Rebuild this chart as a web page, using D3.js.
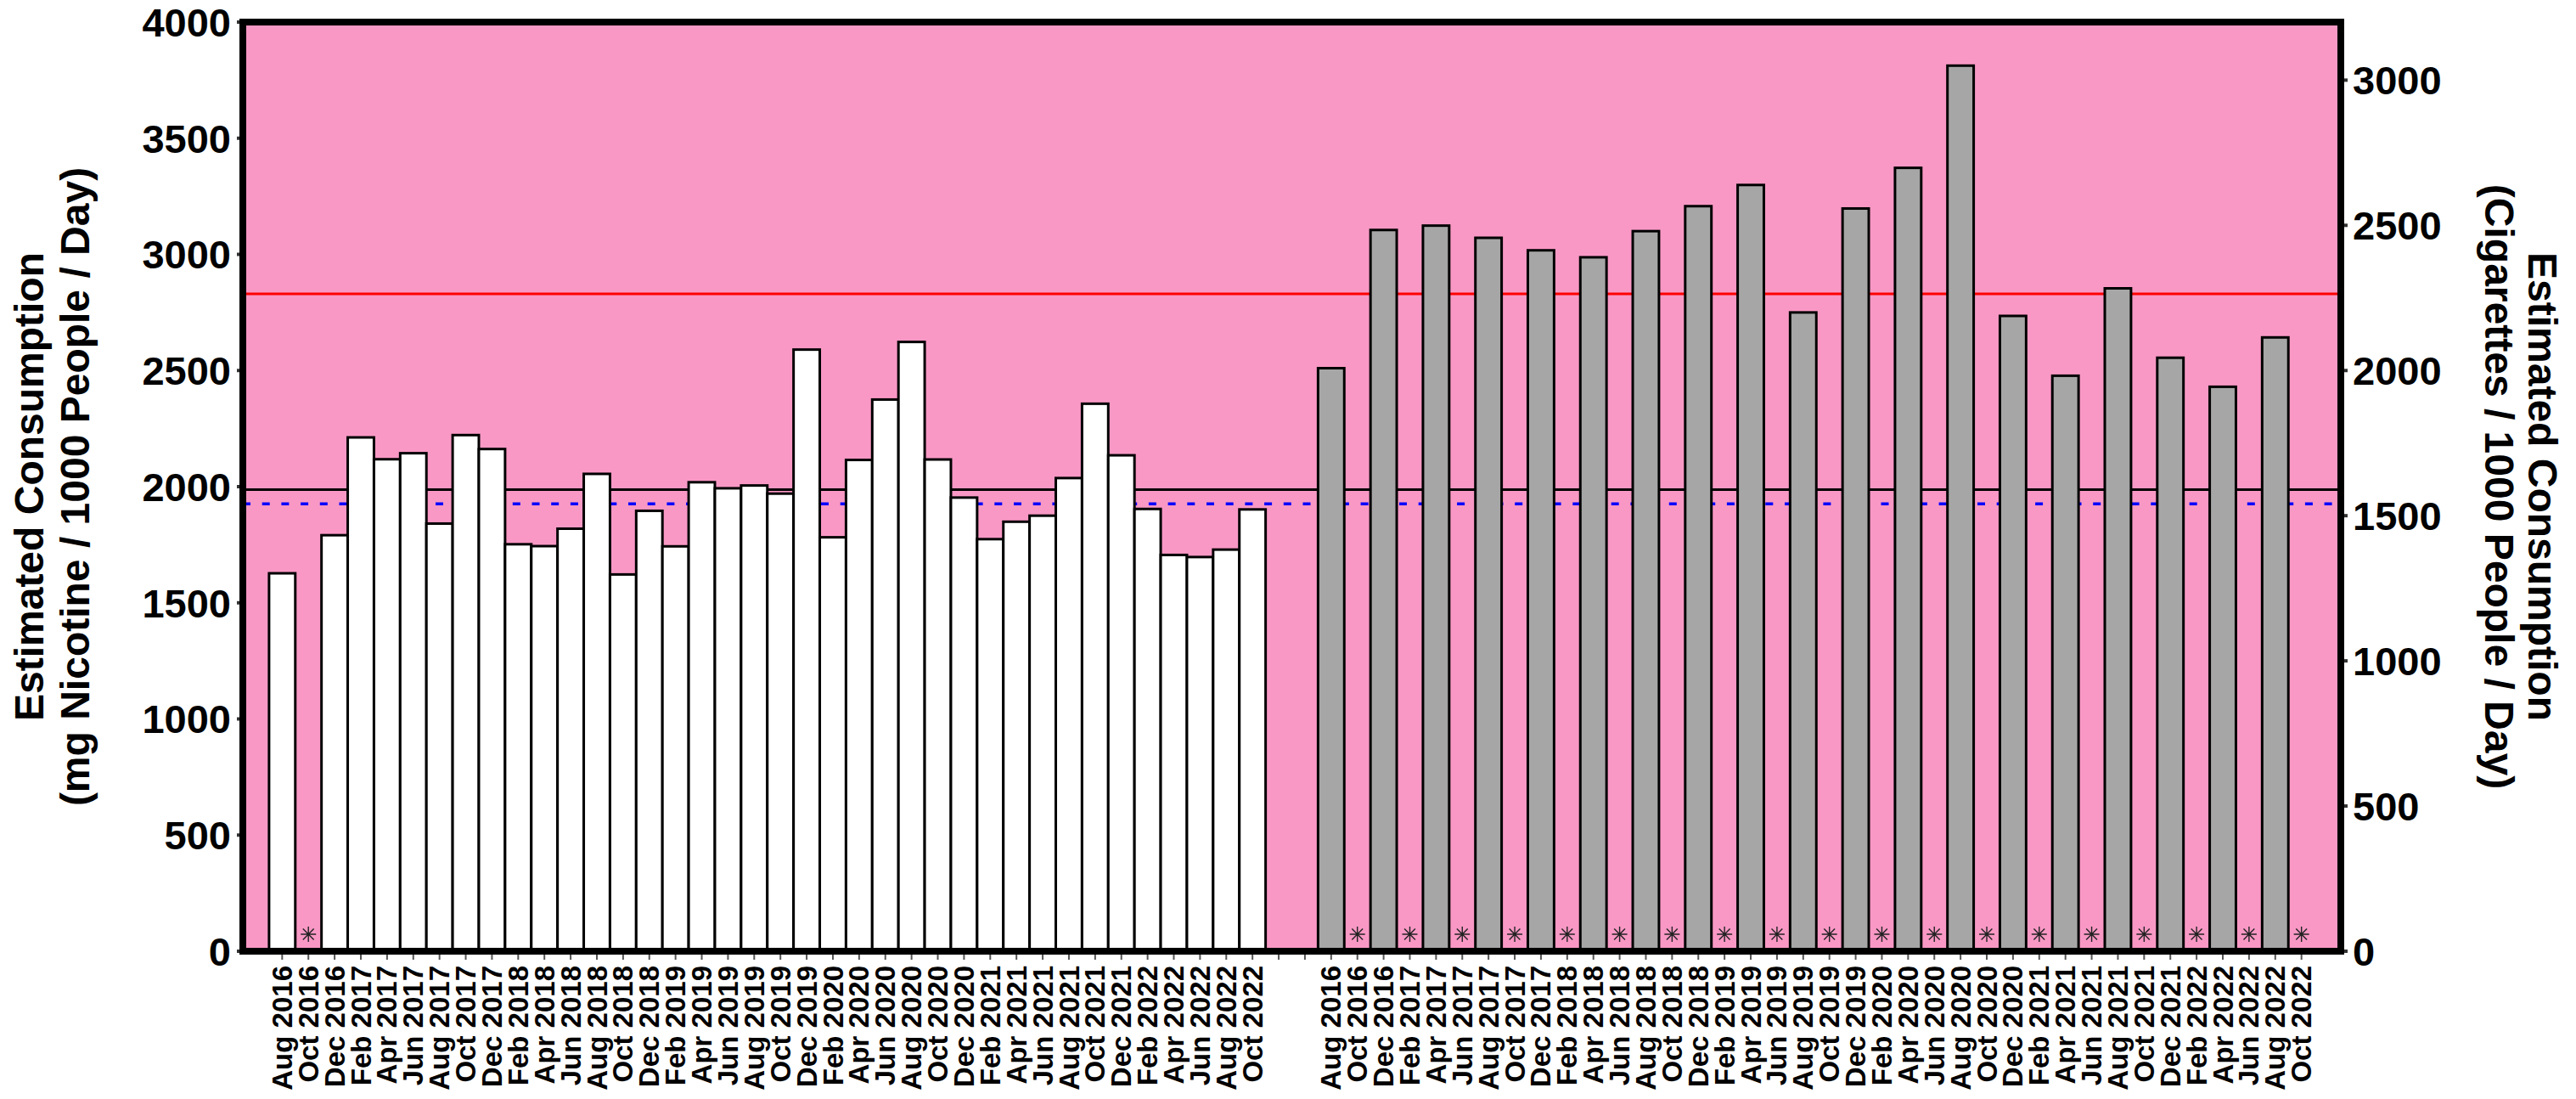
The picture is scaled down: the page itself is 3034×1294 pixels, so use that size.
<!DOCTYPE html>
<html lang="en">
<head>
	<meta charset="UTF-8">
	<title>Estimated Consumption</title>
	<script src="https://cdnjs.cloudflare.com/ajax/libs/d3/7.8.5/d3.min.js"></script>
	<style>
		html, body { margin: 0; padding: 0; background: #fff; }
		svg { display: block; font-family: "Liberation Sans", Arial, sans-serif; font-weight: bold; }
	</style>
</head>
<body>
	<div id="chart"></div>
	<script>
		// sampling months (same for both groups)
		var months = ["Aug 2016","Oct 2016","Dec 2016",
			"Feb 2017","Apr 2017","Jun 2017","Aug 2017","Oct 2017","Dec 2017",
			"Feb 2018","Apr 2018","Jun 2018","Aug 2018","Oct 2018","Dec 2018",
			"Feb 2019","Apr 2019","Jun 2019","Aug 2019","Oct 2019","Dec 2019",
			"Feb 2020","Apr 2020","Jun 2020","Aug 2020","Oct 2020","Dec 2020",
			"Feb 2021","Apr 2021","Jun 2021","Aug 2021","Oct 2021","Dec 2021",
			"Feb 2022","Apr 2022","Jun 2022","Aug 2022","Oct 2022"];

		// mg nicotine / 1000 people / day (left axis), null = no sample
		var nicotine = [1627, null, 1791,
			2212, 2118, 2144, 1841, 2222, 2162,
			1752, 1744, 1819, 2055, 1622, 1896,
			1743, 2019, 1993, 2005, 1970, 2590,
			1782, 2115, 2375, 2623, 2117, 1953,
			1774, 1849, 1875, 2037, 2357, 2135,
			1904, 1706, 1697, 1729, 1902];

		// cigarettes / 1000 people / day (right axis), null = no sample
		var cigarettes = [2008, null, 2484,
			null, 2499, null, 2457, null, 2414,
			null, 2390, null, 2480, null, 2566,
			null, 2639, null, 2200, null, 2558,
			null, 2698, null, 3050, null, 2188,
			null, 1982, null, 2283, null, 2044,
			null, 1944, null, 2114, null];

		var leftTicks = [0, 500, 1000, 1500, 2000, 2500, 3000, 3500, 4000];
		var rightTicks = [0, 500, 1000, 1500, 2000, 2500, 3000];

		// horizontal reference lines, in left-axis units
		var refRed = 2830;
		var refBlack = 1987;
		var refBlue = 1926;

		var W = 3034, H = 1294;
		var margin = {left: 286, right: 277, top: 26, bottom: 174};
		var x0 = margin.left, x1 = W - margin.right;
		var yTop = margin.top, yBot = H - margin.bottom;

		var svg = d3.select("#chart").append("svg")
			.attr("width", W)
			.attr("height", H);

		// slots: one blank each side, two blank between the groups
		var slots = ["padL"]
			.concat(months.map(function(m, i) { return "N" + i; }))
			.concat(["gap0", "gap1"])
			.concat(months.map(function(m, i) { return "C" + i; }))
			.concat(["padR"]);

		var xScale = d3.scaleBand().domain(slots).range([x0, x1]).padding(0);
		var yLeft = d3.scaleLinear().domain([0, 4000]).range([yBot, yTop]);
		var yRight = d3.scaleLinear().domain([0, 3200]).range([yBot, yTop]);

		function slotLabel(s) {
			if (s[0] === "N" || s[0] === "C") return months[+s.slice(1)];
			return "";
		}

		//background
		svg.append("rect")
			.attr("x", x0).attr("y", yTop)
			.attr("width", x1 - x0).attr("height", yBot - yTop)
			.style("fill", "#f998c5");

		//reference lines (behind the bars)
		svg.append("line")
			.attr("x1", x0).attr("x2", x1)
			.attr("y1", yLeft(refRed)).attr("y2", yLeft(refRed))
			.attr("stroke", "#ff0000").attr("stroke-width", 3);
		svg.append("line")
			.attr("x1", x0).attr("x2", x1)
			.attr("y1", yLeft(refBlack)).attr("y2", yLeft(refBlack))
			.attr("stroke", "#000").attr("stroke-width", 3);
		svg.append("line")
			.attr("x1", x0).attr("x2", x1)
			.attr("y1", yLeft(refBlue)).attr("y2", yLeft(refBlue))
			.attr("stroke", "#0000ff").attr("stroke-width", 3.5)
			.attr("stroke-dasharray", "9,13.7");

		var bw = xScale.bandwidth();
		var nData = months.map(function(m, i) { return {key: "N" + i, v: nicotine[i]}; });
		var cData = months.map(function(m, i) { return {key: "C" + i, v: cigarettes[i]}; });

		//bars
		svg.append("g").selectAll("rect")
			.data(nData.filter(function(d) { return d.v !== null; }))
			.enter().append("rect")
			.attr("x", function(d) { return xScale(d.key); })
			.attr("y", function(d) { return yLeft(d.v); })
			.attr("width", bw)
			.attr("height", function(d) { return yLeft(0) - yLeft(d.v); })
			.style("fill", "#fff")
			.attr("stroke", "#000").attr("stroke-width", 3);

		svg.append("g").selectAll("rect")
			.data(cData.filter(function(d) { return d.v !== null; }))
			.enter().append("rect")
			.attr("x", function(d) { return xScale(d.key); })
			.attr("y", function(d) { return yRight(d.v); })
			.attr("width", bw)
			.attr("height", function(d) { return yRight(0) - yRight(d.v); })
			.style("fill", "#a6a6a6")
			.attr("stroke", "#000").attr("stroke-width", 3);

		//asterisks for missing samples
		var star = "M0,-9L0,9M-9,0L9,0M-6.4,-6.4L6.4,6.4M-6.4,6.4L6.4,-6.4";
		svg.append("g").selectAll("path")
			.data(nData.concat(cData).filter(function(d) { return d.v === null; }))
			.enter().append("path")
			.attr("d", star)
			.attr("transform", function(d) { return "translate(" + (xScale(d.key) + bw / 2) + "," + (yBot - 20) + ")"; })
			.attr("fill", "none")
			.attr("stroke", "#222").attr("stroke-width", 1.4);

		//x axis ticks + labels
		var tickSlots = slots.filter(function(s) { return s !== "padL" && s !== "padR"; });
		var xAxis = svg.append("g");
		xAxis.selectAll("line").data(tickSlots).enter().append("line")
			.attr("x1", function(s) { return xScale(s) + bw / 2; })
			.attr("x2", function(s) { return xScale(s) + bw / 2; })
			.attr("y1", yBot).attr("y2", yBot + 10)
			.attr("stroke", "#555").attr("stroke-width", 2);
		xAxis.selectAll("text").data(tickSlots).enter().append("text")
			.attr("transform", function(s) { return "translate(" + (xScale(s) + bw / 2) + "," + (yBot + 17) + ") rotate(-90)"; })
			.attr("text-anchor", "end")
			.attr("dy", "0.35em")
			.style("font-size", "33px")
			.text(slotLabel);

		//left axis
		var gl = svg.append("g");
		gl.selectAll("line").data(leftTicks).enter().append("line")
			.attr("x1", x0 - 7).attr("x2", x0)
			.attr("y1", function(d) { return yLeft(d); }).attr("y2", function(d) { return yLeft(d); })
			.attr("stroke", "#333").attr("stroke-width", 4);
		gl.selectAll("text").data(leftTicks).enter().append("text")
			.attr("x", 272).attr("y", function(d) { return yLeft(d); })
			.attr("dy", "0.36em").attr("text-anchor", "end")
			.style("font-size", "47px")
			.text(function(d) { return d; });

		//right axis
		var gr = svg.append("g");
		gr.selectAll("line").data(rightTicks).enter().append("line")
			.attr("x1", x1).attr("x2", x1 + 8)
			.attr("y1", function(d) { return yRight(d); }).attr("y2", function(d) { return yRight(d); })
			.attr("stroke", "#333").attr("stroke-width", 4);
		gr.selectAll("text").data(rightTicks).enter().append("text")
			.attr("x", 2771).attr("y", function(d) { return yRight(d); })
			.attr("dy", "0.36em").attr("text-anchor", "start")
			.style("font-size", "47px")
			.text(function(d) { return d; });

		//frame
		svg.append("rect")
			.attr("x", x0).attr("y", yTop)
			.attr("width", x1 - x0).attr("height", yBot - yTop)
			.attr("fill", "none")
			.attr("stroke", "#000").attr("stroke-width", 8);

		//axis titles
		var yMid = (yTop + yBot) / 2;
		var lt = svg.append("text")
			.attr("transform", "translate(51," + yMid + ") rotate(-90)")
			.attr("text-anchor", "middle")
			.style("font-size", "48px");
		lt.append("tspan").attr("x", 0).attr("y", 0).text("Estimated Consumption");
		lt.append("tspan").attr("x", 0).attr("y", 54).text("(mg Nicotine / 1000 People / Day)");

		var rt = svg.append("text")
			.attr("transform", "translate(2978," + yMid + ") rotate(90)")
			.attr("text-anchor", "middle")
			.style("font-size", "48px");
		rt.append("tspan").attr("x", 0).attr("y", 0).text("Estimated Consumption");
		rt.append("tspan").attr("x", 0).attr("y", 51).text("(Cigarettes / 1000 People / Day)");
	</script>
</body>
</html>
